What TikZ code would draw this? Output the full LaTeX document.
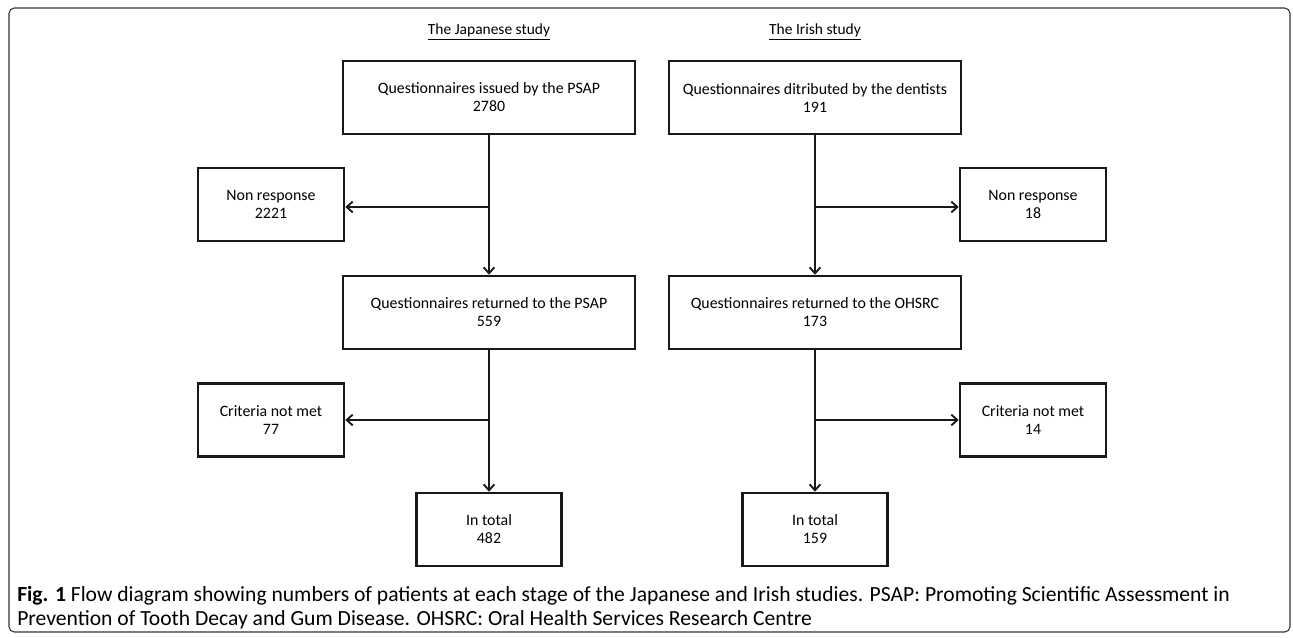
\documentclass[tikz,border=0pt]{standalone}
\usepackage{fontspec}
\setmainfont{Carlito}
\usetikzlibrary{arrows.meta,positioning,calc}
\pgfdeclarelayer{edgelayer}
\pgfdeclarelayer{nodelayer}
\pgfsetlayers{edgelayer,nodelayer,main}
\tikzstyle{none}=[inner sep=0mm]
\tikzstyle{head}=[inner sep=0mm,font=\fontsize{11.6pt}{13.5pt}\selectfont]
\tikzstyle{caption}=[inner sep=0mm,align=left,font=\fontsize{16.2pt}{18pt}\selectfont]
\tikzstyle{box}=[draw=black!90,line width=1.9pt,fill=white,align=center,inner sep=0pt,minimum height=54.75pt,font=\fontsize{11.9pt}{13.5pt}\selectfont]
\tikzstyle{wide box}=[box,minimum width=219pt]
\tikzstyle{side box}=[box,minimum width=109.5pt]
\tikzstyle{end box}=[box,minimum width=108.75pt]
\tikzstyle{diredge}=[-{Straight Barb[length=4.5pt,width=8pt,line width=1.4pt]},line width=1.6pt,draw=black!90]
\tikzstyle{frame}=[draw=black!80,line width=0.8pt,rounded corners=4pt]

\begin{document}
\begin{tikzpicture}[x=0.75pt,y=-0.75pt]
	\useasboundingbox (0,0) rectangle (1293,637);
	\draw[style=frame] (9,8) rectangle (1290,632);
	\begin{pgfonlayer}{nodelayer}
		\node [style=head] (jhead) at (489, 32) {\underline{The Japanese study}};
		\node [style=head] (ihead) at (815, 32) {\underline{The Irish study}};
		\node [style=wide box] (jtop) at (489, 97.5) {Questionnaires issued by the PSAP\\2780};
		\node [style=wide box] (itop) at (815, 97.5) {Questionnaires ditributed by the dentists\\191};
		\node [style=side box] (jnon) at (271, 204.5) {Non response\\2221};
		\node [style=side box] (inon) at (1033, 204.5) {Non response\\18};
		\node [style=wide box] (jret) at (489, 312.5) {Questionnaires returned to the PSAP\\559};
		\node [style=wide box] (iret) at (815, 312.5) {Questionnaires returned to the OHSRC\\173};
		\node [style=side box] (jcrit) at (271, 420) {Criteria not met\\77};
		\node [style=side box] (icrit) at (1033, 420) {Criteria not met\\14};
		\node [style=end box] (jtot) at (489, 529.5) {In total\\482};
		\node [style=end box] (itot) at (815, 529.5) {In total\\159};
		\node [style=caption, anchor=north west] (cap) at (17, 586) {\textbf{Fig. 1} Flow diagram showing numbers of patients at each stage of the Japanese and Irish studies. PSAP: Promoting Scientific Assessment in\\Prevention of Tooth Decay and Gum Disease. OHSRC: Oral Health Services Research Centre};
		\coordinate (jb1) at (489, 207);
		\coordinate (ib1) at (815, 207);
		\coordinate (jb2) at (489, 420);
		\coordinate (ib2) at (815, 420);
	\end{pgfonlayer}
	\begin{pgfonlayer}{edgelayer}
		\draw[style=diredge] (jtop) to (jret);
		\draw[style=diredge] (itop) to (iret);
		\draw[style=diredge] (jret) to (jtot);
		\draw[style=diredge] (iret) to (itot);
		\draw[style=diredge] (jb1) to (jb1 -| jnon.east);
		\draw[style=diredge] (ib1) to (ib1 -| inon.west);
		\draw[style=diredge] (jb2) to (jb2 -| jcrit.east);
		\draw[style=diredge] (ib2) to (ib2 -| icrit.west);
	\end{pgfonlayer}
\end{tikzpicture}
\end{document}
